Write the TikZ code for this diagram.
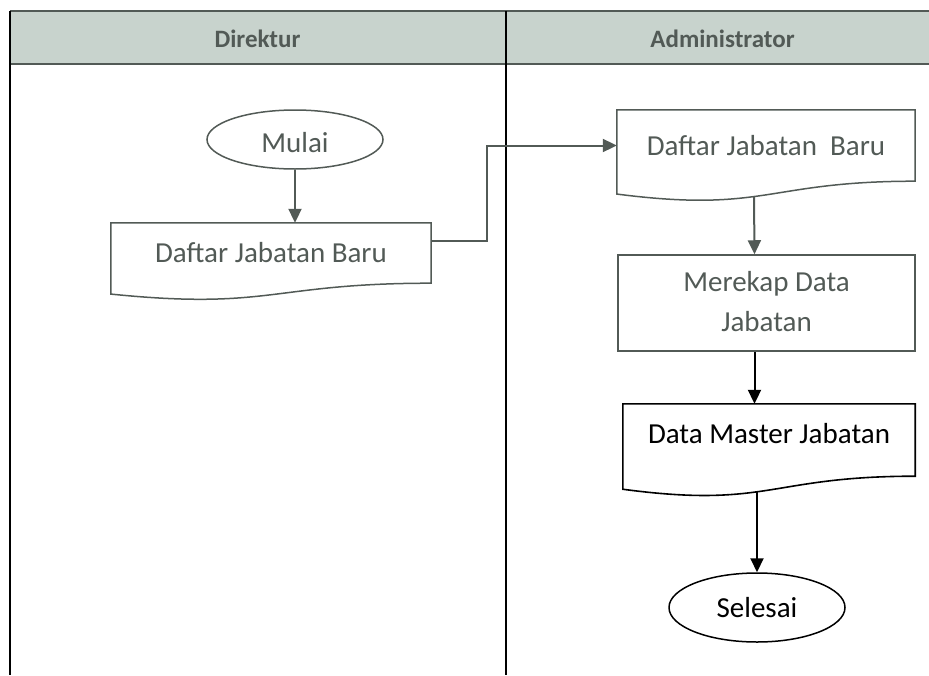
\documentclass[tikz,border=0pt]{standalone}
\usepackage{fontspec}
\setmainfont{Carlito}
\usetikzlibrary{arrows.meta, shapes.geometric, calc}

\definecolor{ink}{RGB}{82,90,86}
\definecolor{headfill}{RGB}{200,211,205}

\newcommand{\docshape}[2][]{%
  \draw[#1] (#2.north west) -- (#2.north east) -- (#2.south east)
    .. controls (#2.south) and ($(#2.south)!-0.45!(#2.north)$)
    .. ($(#2.south west)!-0.18!(#2.north west)$) -- cycle;}

\begin{document}
\begin{tikzpicture}[x=1pt, y=-1pt,
        lane/.style={line width=2.5pt},
        head/.style={font=\fontsize{25}{30}\selectfont\bfseries, text=ink, inner sep=0pt, anchor=base},
        box/.style={font=\fontsize{29}{40}\selectfont, inner sep=0pt, align=center},
        term/.style={box, ellipse, draw, line width=1.5pt},
        flow/.style={line width=2pt, -{Triangle[width=13pt,length=14pt]}}]
        \useasboundingbox (0,0) rectangle (929,675);
        \fill[headfill] (10,11) rectangle (929,64);
        \draw[lane, ink] (929,11) -- (10,11) (10,64) -- (929,64);
        \draw[lane] (10,11) -- (10,675) (506,11) -- (506,675);
        \node[head] (direktur) at (257.5,47) {Direktur};
        \node[head] (admin) at (722.5,47) {Administrator};

        \node[term, draw=ink, text=ink, text height=26pt, minimum width=176pt, minimum height=59pt] (mulai) at (295,139.5) {Mulai};
        \node[box, text=ink, minimum width=320pt, minimum height=60pt] (daftar) at (271,253) {Daftar Jabatan Baru};
        \node[box, text=ink, minimum width=298pt, minimum height=71pt] (daftarB) at (766,145.5) {Daftar Jabatan\ \ Baru};
        \node[box, draw=ink, text=ink, line width=1.5pt, minimum width=297pt, minimum height=96pt] (rekap) at (766.5,303) {\raisebox{-4pt}{\begin{tabular}{@{}c@{}}Merekap Data\\Jabatan\end{tabular}}};
        \node[box, text depth=14pt, minimum width=292pt, minimum height=72pt] (master) at (769,440) {Data Master Jabatan};
        \node[term, minimum width=176pt, minimum height=69pt] (selesai) at (757,607.5) {Selesai};
        \docshape[ink, line width=1.5pt]{daftar}
        \docshape[ink, line width=1.5pt]{daftarB}
        \docshape[line width=1.6pt]{master}

        \draw[flow, ink] (mulai.south) -- (mulai.south |- daftar.north);
        \draw[flow, ink] ([yshift=12pt]daftar.east) -- ++(56,0) |- (daftarB.west);
        \draw[flow, ink] ([xshift=-12pt,yshift=-16pt]daftarB.south) -- ([xshift=-12pt]rekap.north);
        \draw[flow] ([xshift=-12pt]rekap.south) -- ([xshift=-12pt]rekap.south |- master.north);
        \draw[flow] ([xshift=-12pt,yshift=-16pt]master.south) -- (selesai.north);
\end{tikzpicture}
\end{document}
